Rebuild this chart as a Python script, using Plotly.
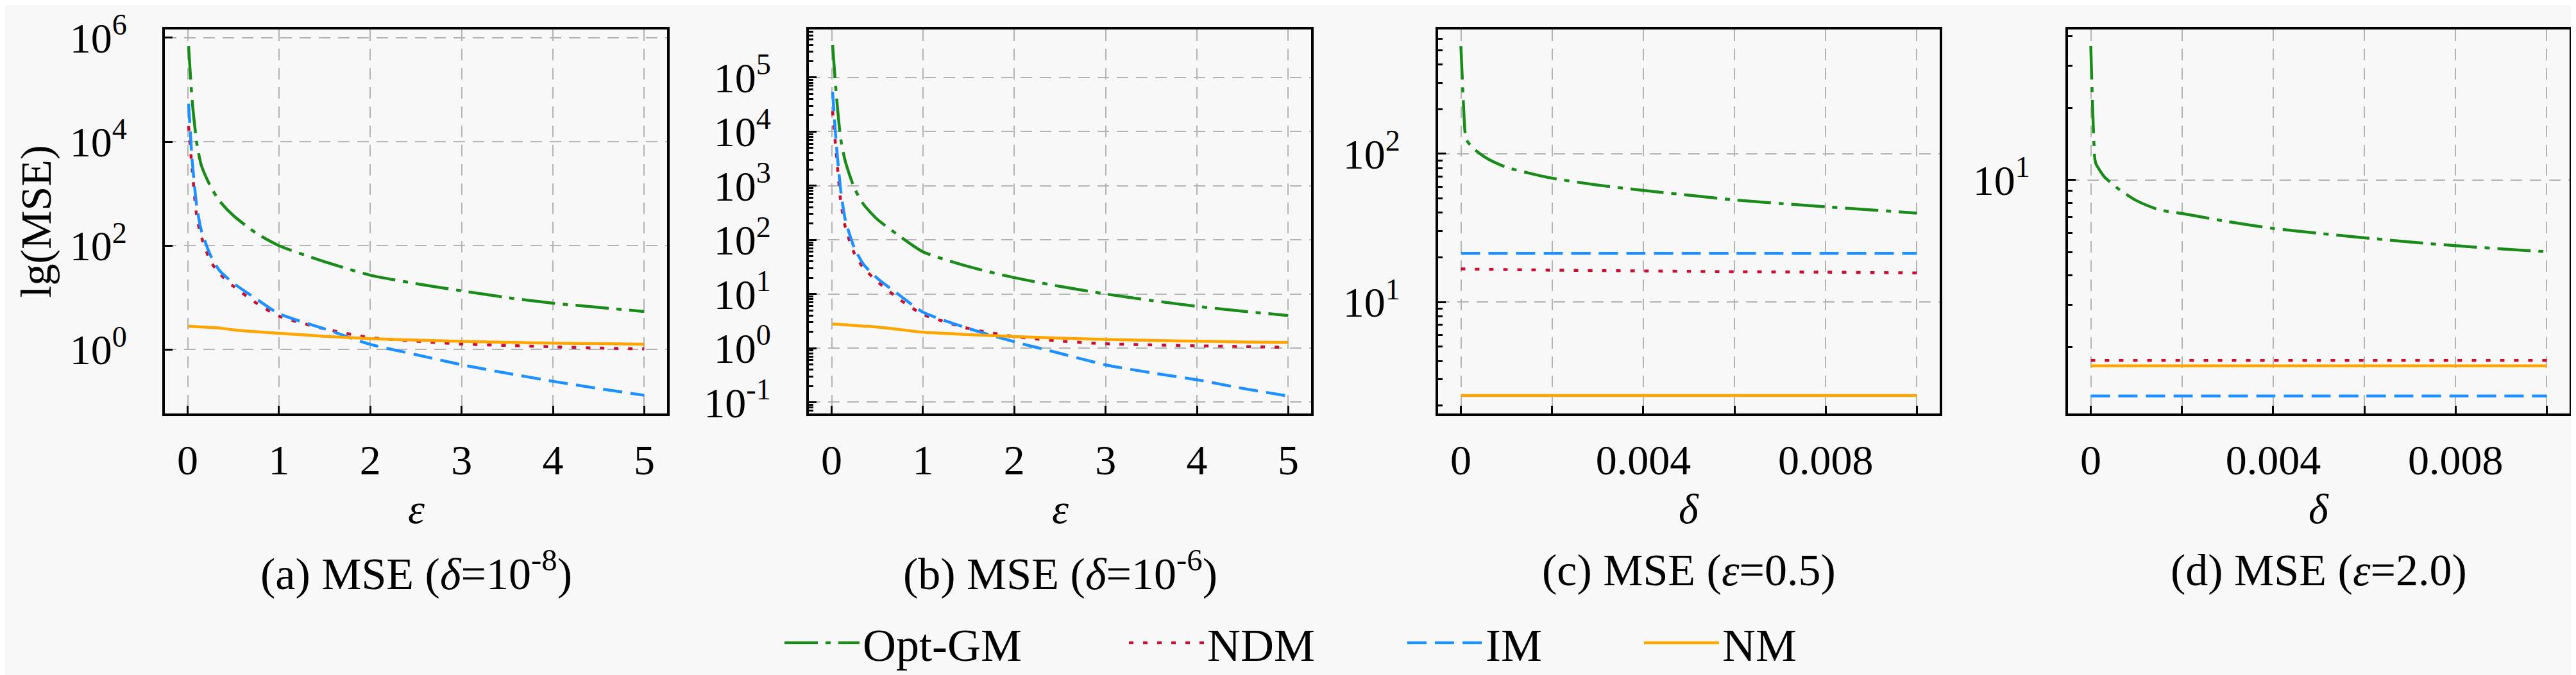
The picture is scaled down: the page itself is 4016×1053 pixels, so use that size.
import plotly.graph_objects as go
from plotly.subplots import make_subplots

# ---- data ----
methods = ['Opt-GM', 'NDM', 'IM', 'NM']

eps = [0.01, 0.05, 0.1, 0.15, 0.25, 0.35, 0.5, 0.75, 1, 1.5, 2, 2.5, 3, 3.5, 4, 4.5, 5]

# (a) delta = 1e-8
a_optgm = [6.9e5, 6.0e4, 9.3e3, 3.5e3, 1380, 720, 380, 174, 100, 49, 27, 18.6, 13.5, 10, 7.8, 6.5, 5.4]
a_ndm = [2.0e4, 2.8e3, 355, 148, 50, 29, 16.6, 7.9, 4.4, 2.5, 1.7, 1.45, 1.28, 1.2, 1.13, 1.07, 1.03]
a_im = [5.4e4, 4.2e3, 560, 195, 65, 33, 19, 9.5, 4.9, 2.5, 1.26, 0.8, 0.51, 0.35, 0.245, 0.178, 0.132]
a_nm = [2.8, 2.78, 2.75, 2.72, 2.66, 2.6, 2.4, 2.2, 2.06, 1.8, 1.62, 1.52, 1.44, 1.38, 1.33, 1.3, 1.27]

# (b) delta = 1e-6
b_optgm = [4.0e5, 5.0e4, 7.1e3, 2.8e3, 890, 450, 240, 115, 60, 32, 20, 13.8, 10, 7.6, 5.9, 4.8, 4.0]
b_ndm = [2.4e4, 4.0e3, 500, 170, 55, 30, 17, 7.8, 4.2, 2.3, 1.63, 1.35, 1.2, 1.15, 1.1, 1.07, 1.03]
b_im = [5.4e4, 6.0e3, 800, 230, 70, 35, 19.5, 9.3, 4.6, 2.3, 1.31, 0.8, 0.49, 0.35, 0.26, 0.18, 0.13]
b_nm = [2.78, 2.76, 2.73, 2.7, 2.62, 2.55, 2.45, 2.2, 1.96, 1.78, 1.63, 1.53, 1.45, 1.39, 1.34, 1.3, 1.27]

delta = [1e-8, 9e-5, 1.2e-4, 3e-4, 6e-4, 1e-3, 1.5e-3, 2e-3, 3e-3, 4e-3, 5e-3, 6e-3, 7e-3, 8e-3, 9e-3, 1e-2]

# (c) epsilon = 0.5
c_optgm = [532, 141, 124, 107, 92, 81, 74, 68.4, 61.5, 56.6, 52.5, 48.8, 46.2, 43.9, 41.8, 39.8]
c_ndm = [16.7, 16.7, 16.7, 16.65, 16.6, 16.55, 16.5, 16.4, 16.3, 16.2, 16.1, 16.0, 15.95, 15.9, 15.8, 15.7]
c_im = [21.3] * len(delta)
c_nm = [2.34] * len(delta)

# (d) epsilon = 2.0
d_optgm = [36.3, 12.2, 11.6, 10.3, 9.2, 8.2, 7.5, 7.24, 6.7, 6.27, 5.98, 5.73, 5.5, 5.31, 5.15, 5.01]
d_ndm = [1.76] * len(delta)
d_im = [1.25] * len(delta)
d_nm = [1.67] * len(delta)

captions = ['(a) MSE (<i>δ</i>=10<sup>-8</sup>)', '(b) MSE (<i>δ</i>=10<sup>-6</sup>)',
            '(c) MSE (<i>ε</i>=0.5)', '(d) MSE (<i>ε</i>=2.0)']
xtitles = ['<i>ε</i>', '<i>ε</i>', '<i>δ</i>', '<i>δ</i>']

# ---- styling ----
W, H = 4016, 1053
FONT = 'Liberation Serif, Times New Roman, serif'
BG = '#f8f8f8'
styles = {
    'Opt-GM': dict(color='#1a8a1a', dash='52px,12px,8px,12px'),
    'NDM': dict(color='#c8102e', dash='7px,15px'),
    'IM': dict(color='#1e90ff', dash='30px,13px'),
    'NM': dict(color='#ffa500', dash='solid'),
}

panels = [
    (eps, [a_optgm, a_ndm, a_im, a_nm]),
    (eps, [b_optgm, b_ndm, b_im, b_nm]),
    (delta, [c_optgm, c_ndm, c_im, c_nm]),
    (delta, [d_optgm, d_ndm, d_im, d_nm]),
]

# pixel boxes of the four panels (left, right), top/bottom shared
xbox = [(249, 1032), (1253, 2036), (2234, 3016), (3216, 3998)]
ytop, ybot = 6, 636

fig = make_subplots(rows=1, cols=4)

for p, (xs, series) in enumerate(panels):
    for k, (m, ys) in enumerate(zip(methods, series)):
        fig.add_trace(go.Scatter(
            x=xs, y=ys, mode='lines', name=m,
            line=dict(color=styles[m]['color'], dash=styles[m]['dash'], width=4.5,
                      shape='spline', smoothing=0.6),
            showlegend=(p == 0),
            legend=('legend' if k == 0 else 'legend%d' % (k + 1)),
        ), row=1, col=p + 1)

axis_common = dict(
    showline=True, mirror=True, linecolor='black', linewidth=4,
    ticks='inside', ticklen=12, tickwidth=3, tickcolor='black',
    showgrid=True, gridcolor='#b4b4b4', gridwidth=2, griddash='18px,12px',
    zeroline=False, tickfont=dict(family=FONT, size=66, color='black'),
    ticklabeloverflow='allow',
)

def sup(v):
    return '10<sup>%d</sup>' % v

ylog_ranges = [(-1.232, 6.164), (-1.21, 5.89), (0.247, 2.84), (0.023, 1.63)]
ytick_exps = [[0, 2, 4, 6], [-1, 0, 1, 2, 3, 4, 5], [1, 2], [1]]
minor_vals = [
    [],
    [k * 10.0 ** e for e in range(-2, 6) for k in range(2, 10)],
    [k * 10.0 ** e for e in range(0, 3) for k in range(2, 10)],
    [k * 10.0 ** e for e in range(0, 2) for k in range(2, 10)],
]

for p in range(4):
    l, r = xbox[p]
    xa = dict(axis_common)
    if p < 2:
        xa.update(range=[-0.25, 5.25], tickmode='array', tickvals=[0, 1, 2, 3, 4, 5],
                  ticktext=['0', '1', '2', '3', '4', '5'])
    else:
        xa.update(range=[-0.0005, 0.0105], tickmode='array',
                  tickvals=[0, 0.002, 0.004, 0.006, 0.008, 0.01],
                  ticktext=['0', '', '0.004', '', '0.008', ''])
    xa.update(domain=[l / W, r / W], anchor='y%s' % ('' if p == 0 else p + 1),
              ticklabelstandoff=12)
    fig.layout['xaxis%s' % ('' if p == 0 else p + 1)].update(xa)

    ya = dict(axis_common)
    ya.update(type='log', range=list(ylog_ranges[p]), tickmode='array',
              tickvals=[10.0 ** e for e in ytick_exps[p]],
              ticktext=[sup(e) for e in ytick_exps[p]],
              domain=[1 - ybot / H, 1 - ytop / H], ticklabelstandoff=42)
    if minor_vals[p]:
        ya.update(minor=dict(tickmode='array', tickvals=minor_vals[p], ticks='inside',
                             ticklen=7, tickwidth=3, tickcolor='black', showgrid=False))
    fig.layout['yaxis%s' % ('' if p == 0 else p + 1)].update(ya)

    xref = 'x%s domain' % ('' if p == 0 else p + 1)
    fig.add_annotation(text=xtitles[p], xref=xref, x=0.5, yref='paper', y=1 - 792 / H,
                       showarrow=False, font=dict(family=FONT, size=66, color='black'),
                       xanchor='center', yanchor='middle')
    fig.add_annotation(text=captions[p], xref=xref, x=0.5, yref='paper', y=1 - 893 / H,
                       showarrow=False, font=dict(family=FONT, size=70, color='black'),
                       xanchor='center', yanchor='middle')

fig.add_annotation(text='lg(MSE)', textangle=-90, xref='paper', x=48 / W, yref='paper',
                   y=1 - 321 / H, showarrow=False, font=dict(family=FONT, size=68, color='black'),
                   xanchor='center', yanchor='middle')

# one legend per method so the entries sit where they sit in the reference
leg_x = [1210, 1747, 2181, 2550]
for i, lx in enumerate(leg_x):
    key = 'legend' if i == 0 else 'legend%d' % (i + 1)
    fig.layout[key] = dict(
        orientation='h', x=lx / W, xanchor='left', y=1 - 1012 / H, yanchor='middle',
        bgcolor='rgba(0,0,0,0)', borderwidth=0, itemwidth=117,
        font=dict(family=FONT, size=72, color='black'),
    )

fig.update_layout(
    width=W, height=H,
    margin=dict(l=0, r=0, t=0, b=0),
    paper_bgcolor=BG, plot_bgcolor=BG,
)

fig.write_html('out.html')
